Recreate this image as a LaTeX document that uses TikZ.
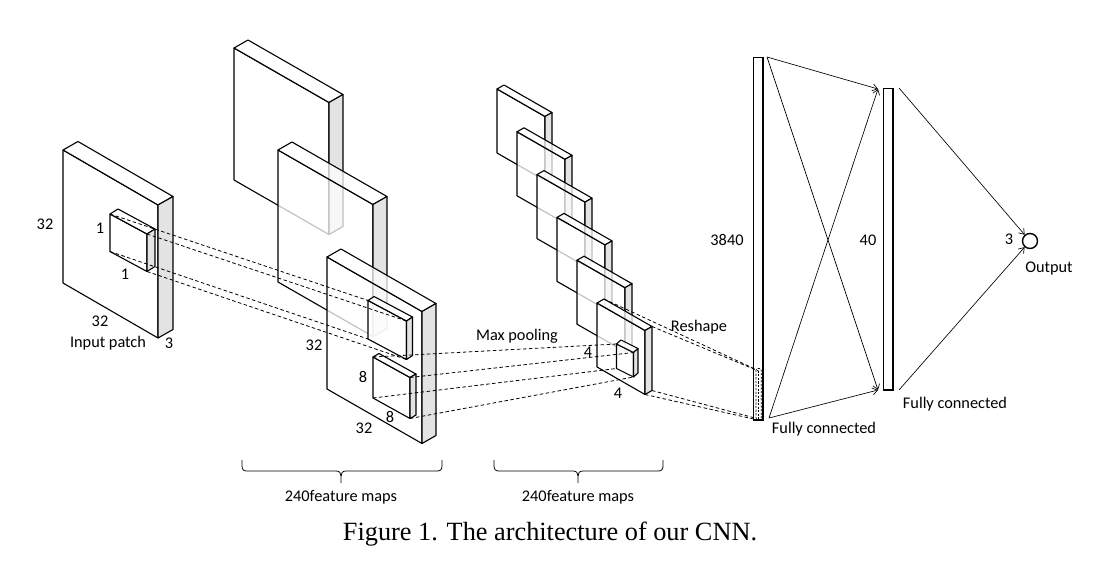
\documentclass[tikz,border=0pt]{standalone}
\usepackage{fontspec}
\setmainfont{Carlito}
\newfontfamily\capfont{Liberation Serif}
\usetikzlibrary{arrows.meta,calc}

% name, x, y, width, height, slant, depth-x, depth-y (up)
\newcommand{\mkslab}[8]{%
  \coordinate (#1-tl) at (#2,#3);
  \coordinate (#1-tr) at (#2+#4,#3+#6);
  \coordinate (#1-br) at (#2+#4,#3+#6+#5);
  \coordinate (#1-bl) at (#2,#3+#5);
  \coordinate (#1-btl) at (#2+#7,#3-#8);
  \coordinate (#1-btr) at (#2+#4+#7,#3+#6-#8);
  \coordinate (#1-bbr) at (#2+#4+#7,#3+#6+#5-#8);
  \path[slabface] (#1-tl) -- (#1-tr) -- (#1-br) -- (#1-bl) -- cycle;
  \path[slabface] (#1-tl) -- (#1-btl) -- (#1-btr) -- (#1-tr) -- cycle;
  \path[slabside] (#1-tr) -- (#1-btr) -- (#1-bbr) -- (#1-br) -- cycle;
}

\tikzset{
  slabface/.style={draw=black, line width=1.1pt, fill=white, fill opacity=0.75, line join=round},
  slabside/.style={draw=black, line width=1.1pt, fill=black!11, line join=round},
  conn/.style={dash pattern=on 3.5pt off 2.5pt, line width=0.8pt},
  rdash/.style={dash pattern=on 2.2pt off 1.4pt, line width=0.6pt},
  arr/.style={-{Straight Barb[length=5pt,width=7pt]}, line width=0.65pt},
  lab/.style={font=\fontsize{16.3}{19}\selectfont, inner sep=0pt},
  fcbar/.style={draw=black, line width=1.7pt, fill=white, inner sep=0pt, minimum width=9.6pt},
  brace/.style={line width=0.8pt}
}

\begin{document}
\begin{tikzpicture}[x=1pt,y=-1pt]
\useasboundingbox (0,0) rectangle (1095,568);

% ---------- input patch ----------
\mkslab{inp}{63}{150}{95}{133}{55}{15}{8.5}
\mkslab{inb}{110}{214}{37}{37.5}{20}{8}{5}

% ---------- convolution feature maps ----------
\mkslab{cva}{234}{48}{95}{132}{54.5}{14}{8}
\mkslab{cvb}{278}{150}{95}{132}{54.5}{14}{8}
\mkslab{cvc}{327}{257}{95}{132}{54.5}{14}{8}
\mkslab{cbu}{368}{300.5}{38.5}{38.5}{20.5}{6}{4}
\mkslab{cbl}{373}{357}{37}{41}{20.5}{6}{3.5}

% ---------- pooled feature maps ----------
\mkslab{pa}{497}{89}{48}{64}{27.5}{7}{4}
\mkslab{pb}{517}{131.8}{48}{64}{27.5}{7}{4}
\mkslab{pc}{537}{174.6}{48}{64}{27.5}{7}{4}
\mkslab{pd}{557}{217.4}{48}{64}{27.5}{7}{4}
\mkslab{pe}{577}{260.2}{48}{64}{27.5}{7}{4}
\mkslab{pf}{597}{303}{48}{64}{27.5}{7}{4}
\mkslab{pbx}{616.5}{344}{17}{24.5}{8.5}{4.5}{4}

% ---------- fully connected ----------
\node[fcbar, minimum height=362.4pt] (fc1) at (758.35,238.7) {};
\node[fcbar, minimum height=301.4pt] (fc2) at (888.35,239.2) {};
\node[draw=black, circle, line width=1.4pt, minimum size=15pt, inner sep=0pt] (out) at (1030,241) {};

\draw[rdash, rounded corners=1.5pt] (756,368.5) rectangle (761.2,419.5);
\draw[rdash] (758.6,370.5) -- (758.6,419);

\coordinate (c1t) at (767,57);
\coordinate (c1b) at (769,418);
\coordinate (c2it) at (878,89);
\coordinate (c2ib) at (878,390);
\coordinate (c2t) at (899,88);
\coordinate (c2b) at (899,390);
\draw[arr] (c1t) -- (c2it);
\draw[arr] (c1t) -- (c2ib);
\draw[arr] (c1b) -- (c2it);
\draw[arr] (c1b) -- (c2ib);
\draw[arr] (c2t) -- (out);
\draw[arr] (c2b) -- (out);

% ---------- dashed connections ----------
\draw[conn] (inb-tl) -- (cbu-tl);
\draw[conn] (inb-tr) -- (cbu-tr);
\draw[conn] (inb-bl) -- (cbu-bl);
\draw[conn] (inb-br) -- (cbu-br);

\draw[conn] (cbl-tl) -- (pbx-tl);
\draw[conn] (cbl-tr) -- (pbx-tr);
\draw[conn] (cbl-bl) -- (pbx-bl);
\draw[conn] (cbl-br) -- (pbx-br);

\coordinate (rstl) at (755,369);
\coordinate (rstr) at (758.5,371);
\coordinate (rsbl) at (755,418);
\coordinate (rsbr) at (758,420);
\draw[conn] (pf-btl) -- (rstl);
\draw[conn] (pf-btr) -- (rstr);
\draw[conn] (pf-bbr) -- (rsbl);
\draw[conn] (pf-br) -- (rsbr);

% ---------- braces ----------
\draw[brace] (242,460) -- (242,466) .. controls (242,469.5) and (243.5,471) .. (247,471)
  -- (336,471) .. controls (339.5,471) and (341,473) .. (341,476) -- (341,483);
\draw[brace] (442,460) -- (442,466) .. controls (442,469.5) and (440.5,471) .. (437,471)
  -- (346,471) .. controls (342.5,471) and (341,473) .. (341,476);
\draw[brace] (494,460) -- (494,466) .. controls (494,469.5) and (495.5,471) .. (499,471)
  -- (573,471) .. controls (576.5,471) and (578,473) .. (578,476) -- (578,483);
\draw[brace] (663,460) -- (663,466) .. controls (663,469.5) and (661.5,471) .. (658,471)
  -- (583,471) .. controls (579.5,471) and (578,473) .. (578,476);

% ---------- labels ----------
\node[lab] (in32a) at (45,224) {32};
\node[lab] (in1a) at (100,228) {1};
\node[lab] (in1b) at (125,274) {1};
\node[lab] (in32b) at (100,321) {32};
\node[lab] (inpatch) at (108,343) {Input patch};
\node[lab] (in3) at (169,343) {3};
\node[lab] (cv32a) at (314,345) {32};
\node[lab] (cv8a) at (363,377) {8};
\node[lab] (cv8b) at (390,417) {8};
\node[lab] (cv32b) at (364,428) {32};
\node[lab] (maxpool) at (517,336) {Max pooling};
\node[lab] (p4a) at (588,352) {4};
\node[lab] (p4b) at (618,393) {4};
\node[lab] (reshape) at (699,327) {Reshape};
\node[lab] (n3840) at (727,240) {3840};
\node[lab] (n40) at (868,240) {40};
\node[lab] (n3) at (1009,239) {3};
\node[lab] (output) at (1049,269) {Output};
\node[lab] (fc1lab) at (824,429) {Fully connected};
\node[lab] (fc2lab) at (955,404) {Fully connected};
\node[lab] (fm1) at (341,497) {240feature maps};
\node[lab] (fm2) at (578,497) {240feature maps};
\node[font=\capfont\fontsize{26.3}{30}\selectfont, inner sep=0pt, anchor=base] (cap) at (550,540.5) {Figure 1. The architecture of our CNN.};
\end{tikzpicture}
\end{document}
